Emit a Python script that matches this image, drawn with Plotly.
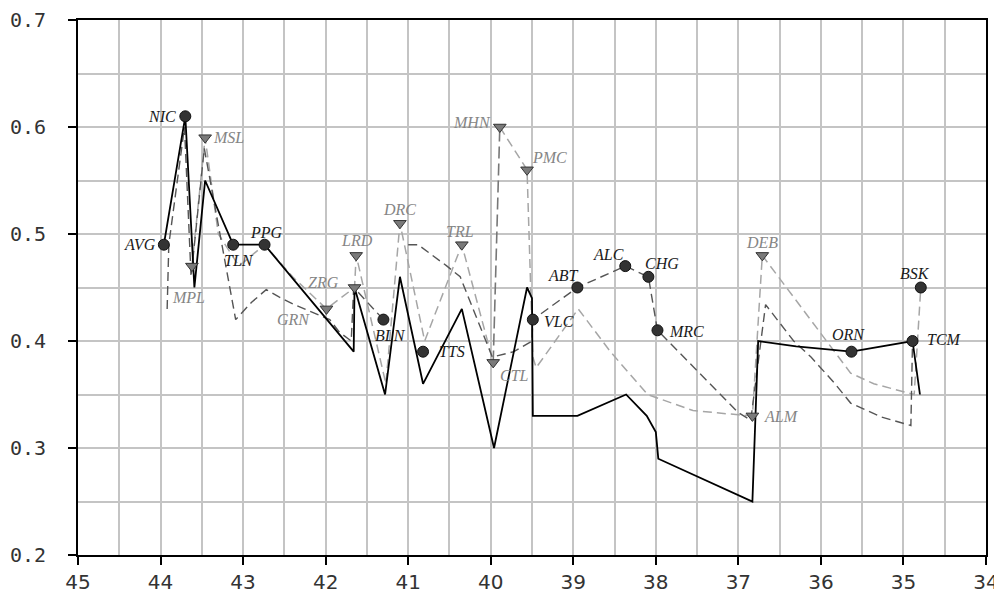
import plotly.graph_objects as go

# ---------------- data ----------------
# solid black series
black_x = [43.96, 43.70, 43.59, 43.46, 43.12, 42.74, 41.66, 41.65, 41.28, 41.10, 40.82, 40.35,
           39.96, 39.56, 39.50, 39.49, 38.95, 38.36, 38.11, 38.00, 37.97, 36.83, 36.76, 36.30,
           35.63, 34.89, 34.80]
black_y = [0.49, 0.61, 0.45, 0.55, 0.49, 0.49, 0.39, 0.45, 0.35, 0.46, 0.36, 0.43,
           0.30, 0.45, 0.44, 0.33, 0.33, 0.35, 0.33, 0.315, 0.29, 0.25, 0.40, 0.395,
           0.39, 0.40, 0.35]

# dark grey dashed series (three pieces)
dark1_x = [43.92, 43.90, 43.71, 43.63, 43.47, 43.09, 42.90, 42.72, 42.56, 42.38, 41.95,
           41.83, 41.69, 41.66, 41.30]
dark1_y = [0.43, 0.49, 0.60, 0.46, 0.58, 0.42, 0.436, 0.448, 0.441, 0.434, 0.42,
           0.408, 0.40, 0.45, 0.42]
dark2_x = [41.00, 40.88, 40.53, 40.37, 39.98, 39.72, 39.50, 39.49, 38.95, 38.37, 38.09,
           37.98, 37.00, 36.85, 36.67, 36.53, 36.33, 36.12, 35.84, 35.64, 35.27, 34.91, 34.89]
dark2_y = [0.49, 0.49, 0.47, 0.46, 0.385, 0.39, 0.40, 0.42, 0.45, 0.47, 0.46,
           0.41, 0.333, 0.326, 0.434, 0.42, 0.40, 0.385, 0.361, 0.342, 0.329, 0.321, 0.40]
dark3_x = [39.97, 39.89]
dark3_y = [0.38, 0.60]

# light grey dashed series (two pieces)
light1_x = [43.62, 43.46, 43.30, 43.05, 42.74, 42.40, 41.99, 41.65, 41.63, 41.27, 41.10,
            40.80, 40.35, 39.97]
light1_y = [0.47, 0.59, 0.50, 0.47, 0.49, 0.46, 0.43, 0.45, 0.48, 0.36, 0.51,
            0.40, 0.49, 0.38]
light2_x = [39.89, 39.56, 39.49, 39.45, 38.94, 38.55, 38.10, 37.55, 37.00, 36.83, 36.71,
            36.37, 36.12, 35.64, 35.36, 34.87, 34.79]
light2_y = [0.60, 0.56, 0.385, 0.375, 0.43, 0.39, 0.35, 0.335, 0.331, 0.33, 0.48,
            0.445, 0.42, 0.37, 0.36, 0.35, 0.45]

# labelled stations (circles)
circ_names = ["AVG", "NIC", "TLN", "PPG", "BLN", "TTS", "VLC", "ABT", "ALC", "CHG", "MRC",
              "ORN", "TCM", "BSK"]
circ_x = [43.96, 43.70, 43.12, 42.74, 41.30, 40.82, 39.49, 38.95, 38.37, 38.09, 37.98,
          35.63, 34.89, 34.79]
circ_y = [0.49, 0.61, 0.49, 0.49, 0.42, 0.39, 0.42, 0.45, 0.47, 0.46, 0.41,
          0.39, 0.40, 0.45]

# labelled stations (triangles)
tri_names = ["MPL", "MSL", "GRN", "ZRG", "LRD", "DRC", "TRL", "MHN", "PMC", "CTL", "ALM", "DEB"]
tri_x = [43.62, 43.46, 41.99, 41.65, 41.63, 41.10, 40.35, 39.89, 39.56, 39.97, 36.83, 36.71]
tri_y = [0.47, 0.59, 0.43, 0.45, 0.48, 0.51, 0.49, 0.60, 0.56, 0.38, 0.33, 0.48]

x_ticks = [45, 44, 43, 42, 41, 40, 39, 38, 37, 36, 35, 34]
y_ticks = [0.2, 0.3, 0.4, 0.5, 0.6, 0.7]

# ---------------- label placement (style) ----------------
place = {
    "NIC": ("right", -7, 0), "AVG": ("right", -6, 0), "TLN": ("center", 6, -16),
    "PPG": ("center", 2, 12), "MPL": ("center", -3, -31), "MSL": ("left", 6, 0),
    "GRN": ("right", -14, -11), "ZRG": ("right", -14, 5), "LRD": ("center", 1, 15),
    "DRC": ("center", 0, 14), "BLN": ("center", 7, -16), "TTS": ("left", 14, 0),
    "TRL": ("center", -2, 13), "MHN": ("right", -7, 5), "PMC": ("left", 3, 12),
    "CTL": ("left", 5, -13), "VLC": ("left", 9, -2), "ABT": ("center", -14, 12),
    "ALC": ("center", -17, 12), "CHG": ("center", 14, 13), "MRC": ("left", 10, -1),
    "ALM": ("left", 10, -1), "DEB": ("center", 0, 13), "ORN": ("center", -3, 17),
    "TCM": ("left", 12, 2), "BSK": ("center", -6, 14),
}

fig = go.Figure()

dashpat = "9px,5px"
fig.add_trace(go.Scatter(x=light1_x, y=light1_y, mode="lines",
                         line=dict(color="#a6a6a6", width=1.5, dash=dashpat), hoverinfo="skip"))
fig.add_trace(go.Scatter(x=light2_x, y=light2_y, mode="lines",
                         line=dict(color="#a6a6a6", width=1.5, dash=dashpat), hoverinfo="skip"))
fig.add_trace(go.Scatter(x=dark1_x, y=dark1_y, mode="lines",
                         line=dict(color="#555555", width=1.4, dash=dashpat), hoverinfo="skip"))
fig.add_trace(go.Scatter(x=dark2_x, y=dark2_y, mode="lines",
                         line=dict(color="#555555", width=1.4, dash=dashpat), hoverinfo="skip"))
fig.add_trace(go.Scatter(x=dark3_x, y=dark3_y, mode="lines",
                         line=dict(color="#777777", width=1.6, dash="12px,5px"), hoverinfo="skip"))
fig.add_trace(go.Scatter(x=black_x, y=black_y, mode="lines",
                         line=dict(color="#000000", width=1.8), hoverinfo="skip"))

fig.add_trace(go.Scatter(x=tri_x, y=tri_y, mode="markers",
                         marker=dict(symbol="triangle-down", size=11, color="#7a7a7a",
                                     line=dict(color="#333333", width=1))))
fig.add_trace(go.Scatter(x=circ_x, y=circ_y, mode="markers",
                         marker=dict(symbol="circle", size=11, color="#333333",
                                     line=dict(color="#111111", width=1))))

for n, x, y in zip(circ_names, circ_x, circ_y):
    xa, dx, dy = place[n]
    fig.add_annotation(x=x, y=y, text="<i>" + n + "</i>", showarrow=False,
                       xanchor=xa, yanchor="middle", xshift=dx, yshift=dy,
                       font=dict(family="Liberation Serif", size=16, color="#1a1a1a"))
for n, x, y in zip(tri_names, tri_x, tri_y):
    xa, dx, dy = place[n]
    fig.add_annotation(x=x, y=y, text="<i>" + n + "</i>", showarrow=False,
                       xanchor=xa, yanchor="middle", xshift=dx, yshift=dy,
                       font=dict(family="Liberation Serif", size=16, color="#858585"))

fig.update_layout(
    width=994, height=591,
    margin=dict(l=70, r=16, t=12, b=44),
    paper_bgcolor="white", plot_bgcolor="white",
    showlegend=False,
    xaxis=dict(range=[45, 34], tickvals=x_ticks, ticktext=[str(v) for v in x_ticks],
               automargin=False,
               showgrid=True, gridcolor="#c4c4c4", gridwidth=1.5,
               minor=dict(dtick=0.5, showgrid=True, gridcolor="#c4c4c4", gridwidth=1.5),
               showline=True, linecolor="black", linewidth=2, mirror=True,
               ticks="outside", ticklen=8, tickcolor="black", tickwidth=1.5,
               ticklabelstandoff=0,
               tickfont=dict(family="DejaVu Sans", size=20, color="#333333"),
               zeroline=False),
    yaxis=dict(range=[0.2, 0.7], tickvals=y_ticks, ticktext=["%.1f" % v for v in y_ticks],
               automargin=False,
               showgrid=True, gridcolor="#c4c4c4", gridwidth=1.5,
               minor=dict(dtick=0.05, showgrid=True, gridcolor="#c4c4c4", gridwidth=1.5),
               showline=True, linecolor="black", linewidth=2, mirror=True,
               ticks="outside", ticklen=8, tickcolor="black", tickwidth=1.5,
               ticklabelstandoff=18,
               tickfont=dict(family="DejaVu Sans Mono", size=20, color="#333333"),
               zeroline=False),
)

fig.write_html("out.html")
